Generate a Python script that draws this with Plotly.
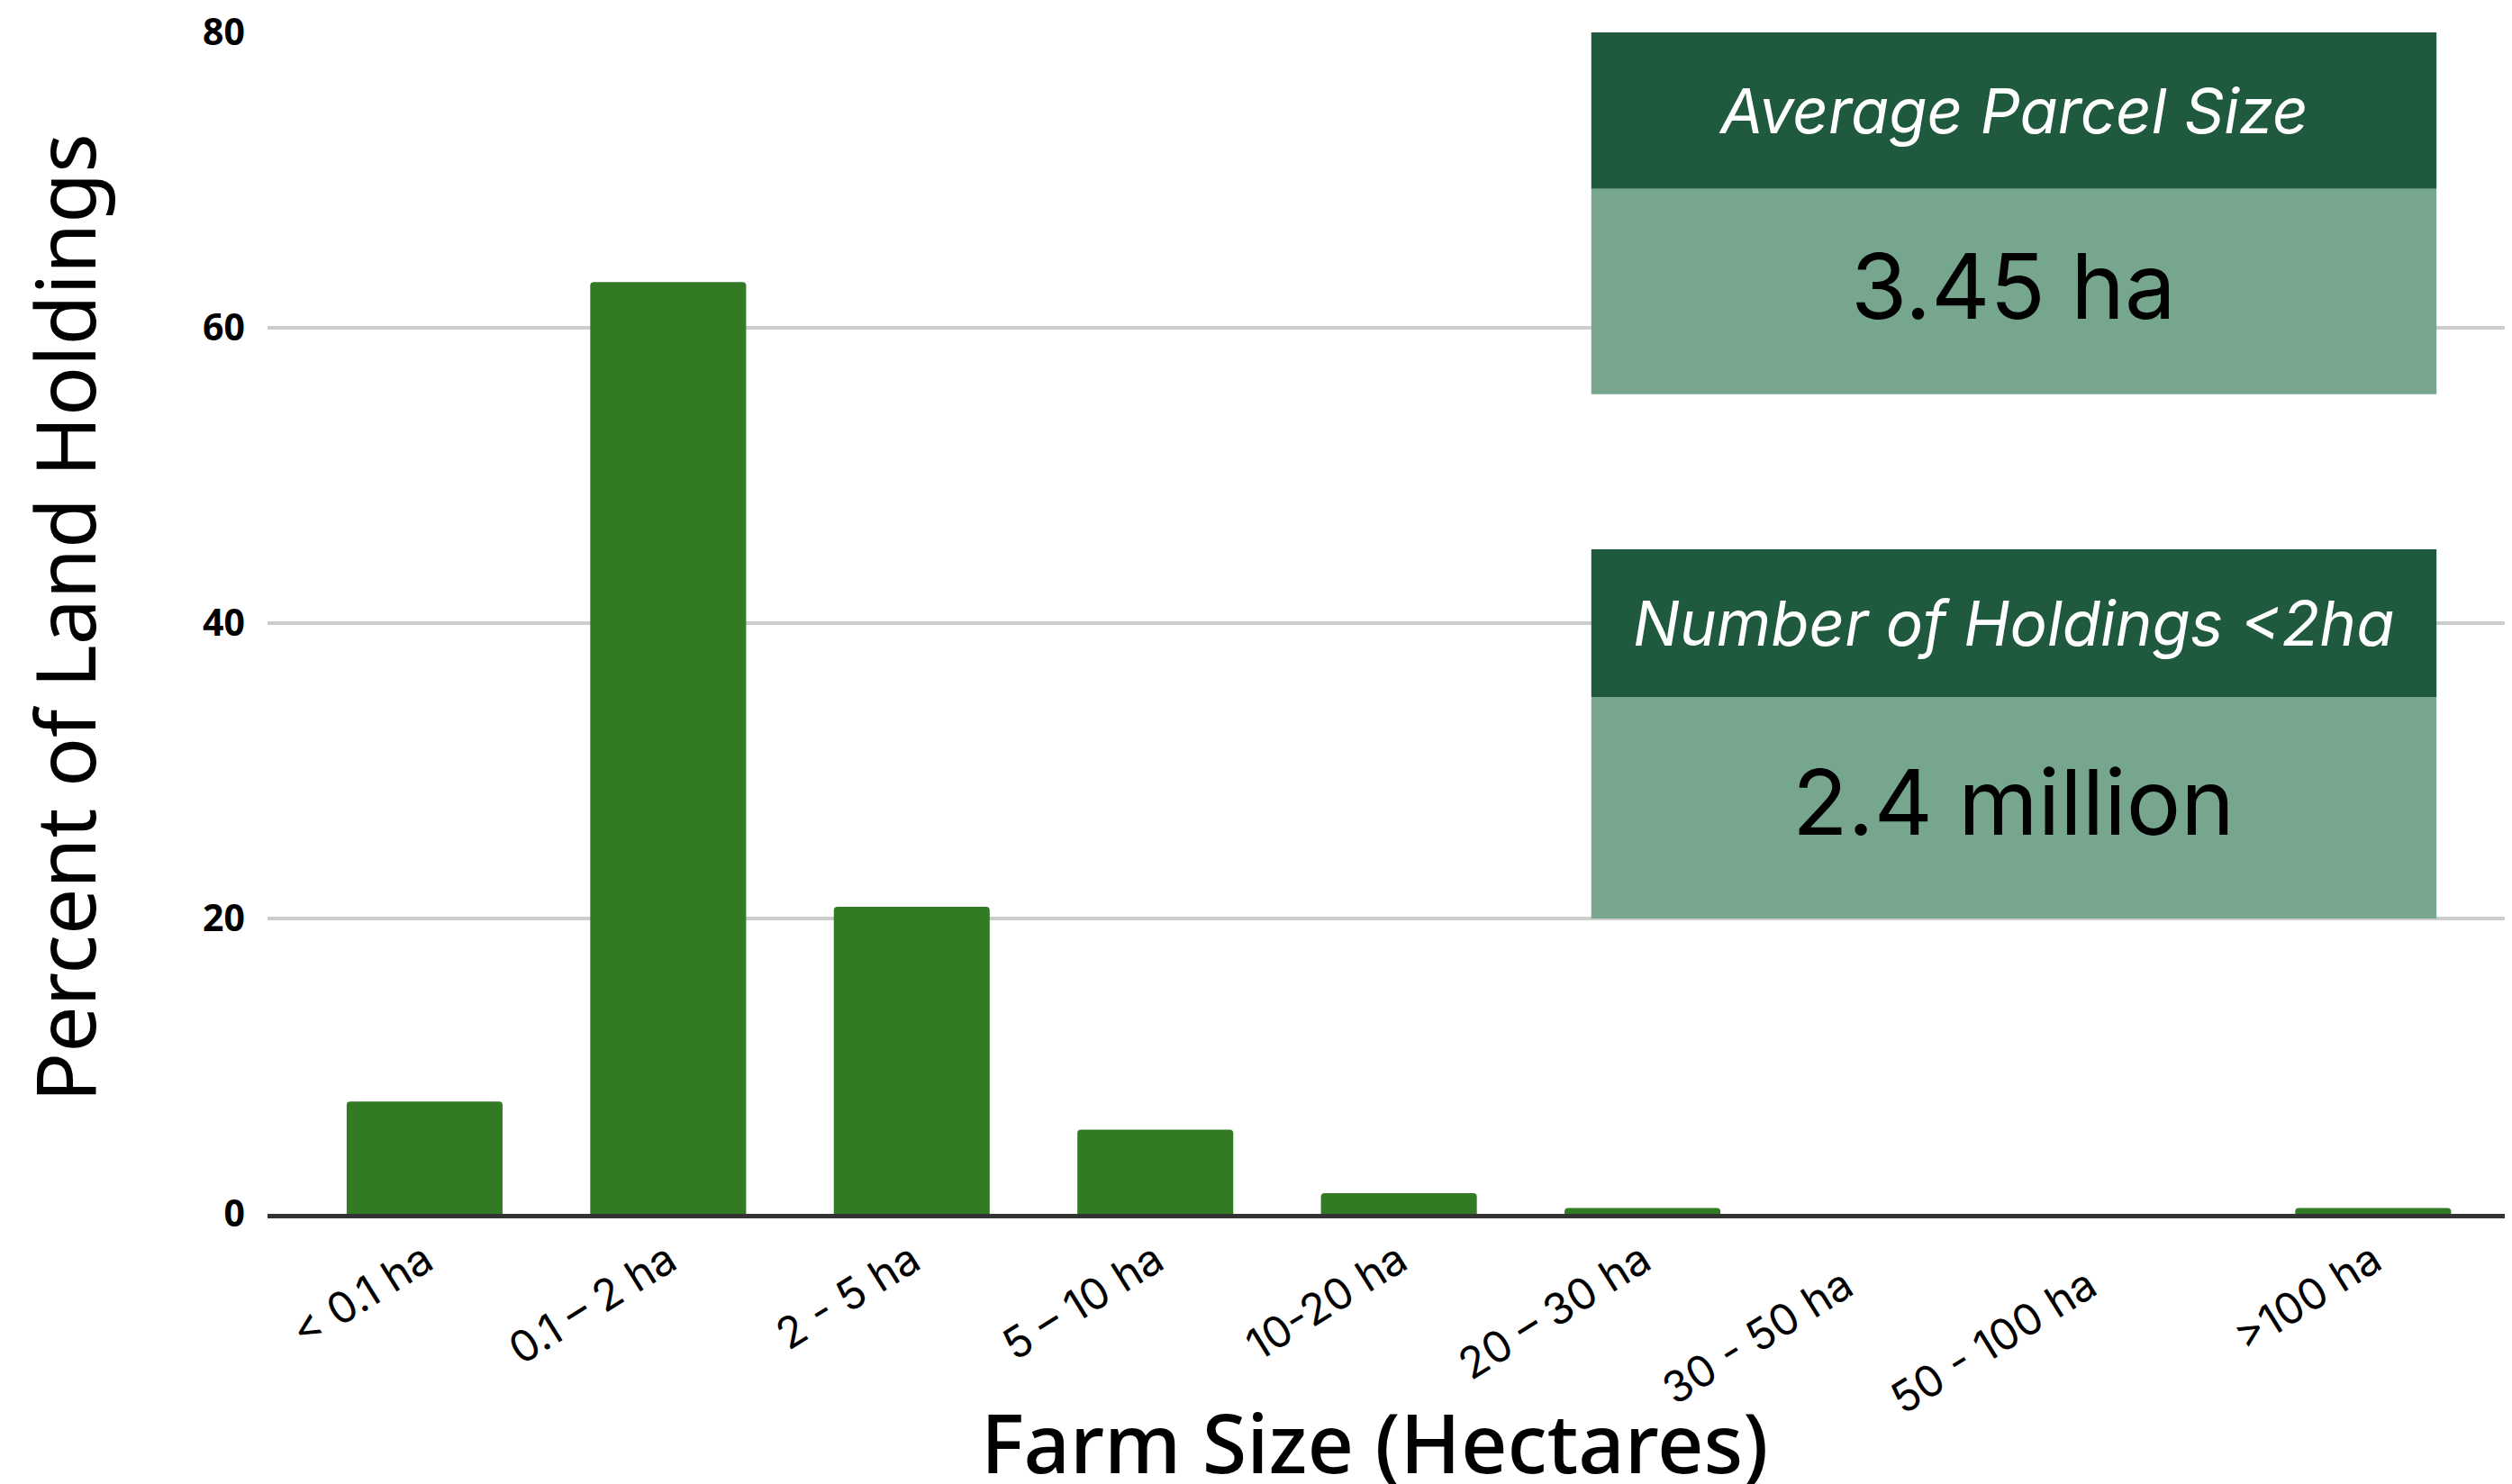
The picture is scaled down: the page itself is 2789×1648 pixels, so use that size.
import plotly.graph_objects as go

NB = "\u00a0"
categories = ["< 0.1 ha", "0.1 – 2 ha", "2 - 5 ha", "5 – 10 ha", "10-20 ha",
              "20 – 30 ha", "30 - 50 ha" + NB * 4, "50 - 100 ha" + NB * 4, ">100 ha"]
percent_holdings = [7.6, 63.1, 20.8, 5.7, 1.4, 0.4, 0.0, 0.0, 0.4]
y_ticks = [0, 20, 40, 60, 80]

box1_title = "Average Parcel Size"
box1_value = "3.45 ha"
box2_title = "Number of Holdings <2ha"
box2_value = "2.4 million"

BAR = "#337A25"
DARK = "#1F593E"
LIGHT = "#76A68D"

W, H = 2789, 1648
fig = go.Figure()
fig.add_trace(go.Bar(
    x=list(range(len(categories))), y=percent_holdings,
    marker=dict(color=BAR, line=dict(width=0), cornerradius=4),
    width=0.64, showlegend=False, hoverinfo="skip",
))

fig.update_layout(
    width=W, height=H,
    margin=dict(l=289, r=8, t=28, b=308, autoexpand=False),
    plot_bgcolor="white", paper_bgcolor="white",
)
fig.update_xaxes(
    range=[-0.645, 8.57],
    tickmode="array", tickvals=list(range(len(categories))), ticktext=categories,
    tickangle=-32,
    tickfont=dict(family="Inter", size=48, color="black"),
    showline=True, linecolor="#333333", linewidth=5,
    showgrid=False, zeroline=False, ticks="", ticklabelstandoff=0,
)
fig.update_yaxes(
    range=[0, 80], tickmode="array", tickvals=y_ticks,
    tickfont=dict(family="Open Sans", size=41, color="black", weight="bold"),
    showgrid=True, gridcolor="#CCCCCC", gridwidth=4,
    zeroline=False, showline=False, ticks="", ticklabelstandoff=24,
    ticklabeloverflow="allow",
)

# axis titles
fig.add_annotation(text="Percent of Land Holdings", xref="paper", yref="paper",
                   x=-0.0905, y=0.505, xanchor="center", yanchor="middle",
                   textangle=-90, showarrow=False,
                   font=dict(family="Noto Sans", size=91, color="black"))
fig.add_annotation(text="Farm Size (Hectares)", xref="paper", yref="paper",
                   x=0.493, y=-0.193, xanchor="center", yanchor="middle",
                   showarrow=False,
                   font=dict(family="Noto Sans", size=90, color="black", weight=500))

# info boxes
bx0, bx1 = 4.79, 8.26
boxes = [
    (box1_title, box1_value, 80, 69.4, 55.5),
    (box2_title, box2_value, 45.0, 35.0, 20.0),
]
for title, value, top, mid, bot in boxes:
    fig.add_shape(type="rect", xref="x", yref="y", x0=bx0, x1=bx1, y0=mid, y1=top,
                  fillcolor=DARK, line=dict(width=0), layer="above")
    fig.add_shape(type="rect", xref="x", yref="y", x0=bx0, x1=bx1, y0=bot, y1=mid,
                  fillcolor=LIGHT, line=dict(width=0), layer="above")
    xc = (bx0 + bx1) / 2
    fig.add_annotation(text=title, xref="x", yref="y", x=xc, y=(top + mid) / 2,
                       showarrow=False, xanchor="center", yanchor="middle",
                       font=dict(family="Inter", size=69, color="white", style="italic"))
    fig.add_annotation(text=value, xref="x", yref="y", x=xc, y=(mid + bot) / 2 + 0.4,
                       showarrow=False, xanchor="center", yanchor="middle",
                       font=dict(family="Inter", size=101, color="black"))

fig.write_html("out.html")
